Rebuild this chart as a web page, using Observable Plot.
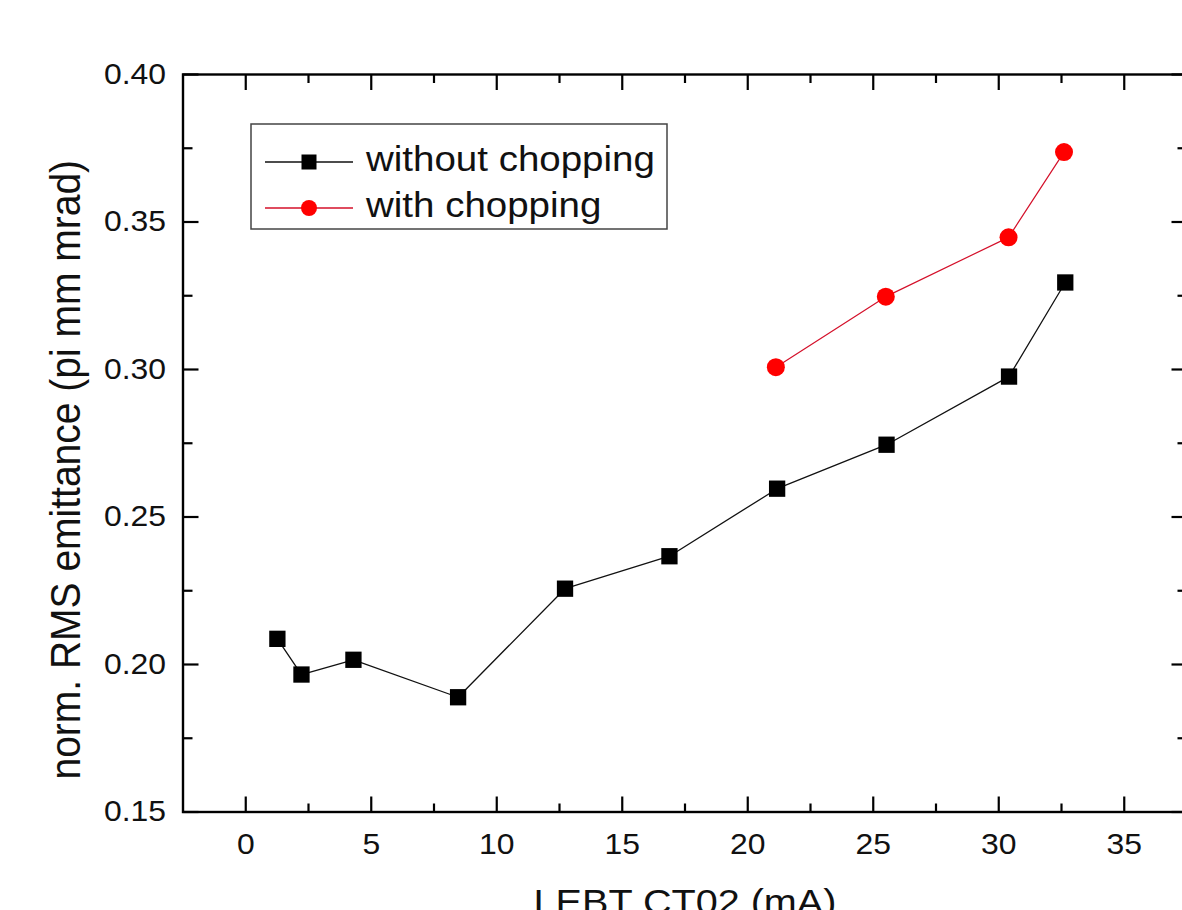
<!DOCTYPE html>
<html>
<head>
<meta charset="utf-8">
<script src="https://cdn.jsdelivr.net/npm/d3@7"></script>
<script src="https://cdn.jsdelivr.net/npm/@observablehq/plot@0.6"></script>
<style>
  html, body { margin: 0; padding: 0; background: white; }
  #wrap { width: 1182px; height: 910px; overflow: hidden; }
  #wrap svg { overflow: hidden; }
</style>
</head>
<body>
<div id="wrap"></div>
<script>
// Beam current in the LEBT (mA) and normalised RMS emittance (pi mm mrad)
const currentNoChop = [1.26, 2.22, 4.29, 8.46, 12.72, 16.88, 21.17, 25.53, 30.41, 32.65];
const emitNoChop    = [0.2087, 0.1966, 0.2016, 0.1889, 0.2257, 0.2367, 0.2596, 0.2745, 0.2976, 0.3295];

const currentChop = [21.12, 25.5, 30.39, 32.6];
const emitChop    = [0.3008, 0.3247, 0.3448, 0.3737];

const seriesNames = ["without chopping", "with chopping"];

const xMajor = [0, 5, 10, 15, 20, 25, 30, 35];
const xMinor = [2.5, 7.5, 12.5, 17.5, 22.5, 27.5, 32.5];
const yMajor = [0.15, 0.20, 0.25, 0.30, 0.35, 0.40];
const yMinor = [0.175, 0.225, 0.275, 0.325, 0.375];

const xTitle = "LEBT CT02 (mA)";
const yTitle = "norm. RMS emittance (pi mm mrad)";

const noChop = currentNoChop.map((x, i) => ({x, y: emitNoChop[i]}));
const chop = currentChop.map((x, i) => ({x, y: emitChop[i]}));

const FONT = "'Liberation Sans', Arial, sans-serif";
const W = 1182, H = 910;
const mL = 182.5, mR = -4.5, mT = 74, mB = 98.5;
const plotW = W - mL - mR, plotH = H - mT - mB;
const INK = "#111";

const chart = Plot.plot({
  width: W,
  height: H,
  marginLeft: mL,
  marginRight: mR,
  marginTop: mT,
  marginBottom: mB,
  x: {domain: [-2.5, 37.5]},
  y: {domain: [0.15, 0.40]},
  style: {fontFamily: FONT, color: INK, background: "white"},
  marks: [
    // inward ticks on all four sides
    Plot.tickX(xMajor, {x: d => d, insetTop: plotH - 15, stroke: "black", strokeWidth: 2.2}),
    Plot.tickX(xMinor, {x: d => d, insetTop: plotH - 8, stroke: "black", strokeWidth: 2.2}),
    Plot.tickX(xMajor, {x: d => d, insetBottom: plotH - 16, stroke: "black", strokeWidth: 2.2}),
    Plot.tickX(xMinor, {x: d => d, insetBottom: plotH - 9, stroke: "black", strokeWidth: 2.2}),
    Plot.tickY(yMajor, {y: d => d, insetRight: plotW - 16, stroke: "black", strokeWidth: 2.2}),
    Plot.tickY(yMinor, {y: d => d, insetRight: plotW - 10, stroke: "black", strokeWidth: 2.2}),
    Plot.tickY(yMajor, {y: d => d, insetLeft: plotW - 15, stroke: "black", strokeWidth: 2.2}),
    Plot.tickY(yMinor, {y: d => d, insetLeft: plotW - 9, stroke: "black", strokeWidth: 2.2}),
    Plot.frame({stroke: "black", strokeWidth: 2.4}),

    Plot.axisX({ticks: xMajor, tickSize: 0, tickPadding: 21, fontSize: 29, tickFormat: d => String(d), label: null}),
    Plot.axisY({ticks: yMajor, tickSize: 0, tickPadding: 17, fontSize: 29, tickFormat: d => d.toFixed(2), label: null}),

    Plot.text([xTitle], {text: d => d, frameAnchor: "bottom", textAnchor: "middle", lineAnchor: "top", dy: 76.5, fontSize: 36, fill: INK}),
    Plot.text([yTitle], {text: d => d, frameAnchor: "left", textAnchor: "middle", lineAnchor: "middle", rotate: -90, dx: -117, dy: 26.5, fontSize: 39, fill: INK}),

    // series
    Plot.line(noChop, {x: "x", y: "y", stroke: "#111", strokeWidth: 1.3}),
    Plot.dot(noChop, {x: "x", y: "y", symbol: "square", r: 9.2, fill: "black", stroke: "none"}),
    Plot.line(chop, {x: "x", y: "y", stroke: "#d4102a", strokeWidth: 1.2}),
    Plot.dot(chop, {x: "x", y: "y", symbol: "circle", r: 9, fill: "#ff0000", stroke: "none"})
  ]
});

document.getElementById("wrap").appendChild(chart);

const svg = d3.select(chart);

// the lettering is slightly wide: stretch every label horizontally about its anchor
svg.selectAll("text").each(function () {
  const t = this.getAttribute("transform");
  if (!t) return;
  const vertical = this.textContent === yTitle;
  this.setAttribute("transform", t + (vertical ? " scale(1,1.1)" : " scale(1.1,1)"));
});

// legend box
const legend = svg.append("g").attr("font-family", FONT).attr("text-anchor", "start");
legend.append("rect")
  .attr("x", 251).attr("y", 124).attr("width", 416).attr("height", 105)
  .attr("fill", "white").attr("stroke", "#444").attr("stroke-width", 1.5);

const entries = [
  {label: seriesNames[0], line: "#111", fill: "black", shape: "square", cy: 162},
  {label: seriesNames[1], line: "#d4102a", fill: "#ff0000", shape: "circle", cy: 208}
];
for (const e of entries) {
  legend.append("line")
    .attr("x1", 265).attr("x2", 353).attr("y1", e.cy).attr("y2", e.cy)
    .attr("stroke", e.line).attr("stroke-width", 1.3);
  if (e.shape === "square") {
    legend.append("rect").attr("x", 309 - 7.5).attr("y", e.cy - 7.5)
      .attr("width", 15).attr("height", 15).attr("fill", e.fill);
  } else {
    legend.append("circle").attr("cx", 309).attr("cy", e.cy).attr("r", 8).attr("fill", e.fill);
  }
  legend.append("text")
    .attr("text-anchor", "start")
    .attr("transform", `translate(366,${e.cy + 8.5}) scale(1.1,1)`)
    .attr("font-size", 35).attr("fill", INK)
    .text(e.label);
}
</script>
</body>
</html>
